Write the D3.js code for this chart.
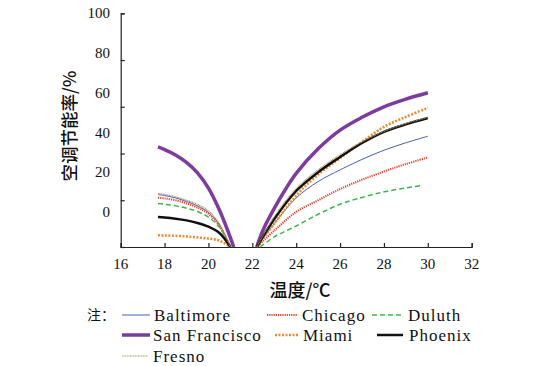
<!DOCTYPE html>
<html>
<head>
<meta charset="utf-8">
<script src="https://cdn.jsdelivr.net/npm/d3@7"></script>
<style>
  body { margin: 0; background: #fff; }
</style>
</head>
<body>
<div id="chart"></div>
<script>
// temperatures (°C) where values were read
const heatT = [17.7, 18, 18.5, 19, 19.5, 20, 20.5, 21];
const heatT_SF = [17.7, 18, 18.5, 19, 19.5, 20, 20.5, 21, 21.15];
const coolT = [22.2, 23, 24, 25, 26, 27, 28, 29, 30];
const coolT_SF = [22.2, 22.5, 23, 23.5, 24, 25, 26, 27, 28, 29, 30];
const coolT_Duluth = [22.35, 23, 24, 25, 26, 27, 28, 29, 29.75];

// energy saving rate (%)
const baltimoreHeat = [22.4, 22, 21, 19.5, 17.6, 14.8, 9.5, 0];
const baltimoreCool = [0, 10, 21, 28, 33, 37.5, 41.4, 44.6, 47.4];
const chicagoHeat = [21.1, 20.8, 20, 18.7, 16.9, 14.2, 9.1, 0];
const chicagoCool = [0, 7, 15, 20, 24.8, 28.8, 32.3, 35.5, 38.3];
const duluthHeat = [18.6, 18.3, 17.6, 16.6, 15.2, 12.8, 8.4, 0];
const duluthCool = [0, 4.3, 9, 14, 18.3, 21.2, 23.6, 25.3, 26.4];
const sfHeat = [42.8, 41.7, 39.4, 36.2, 31.7, 25.2, 15.8, 4, 0];
const sfCool = [0, 7.5, 16.5, 24.5, 31.5, 42, 50, 55.5, 60, 63.3, 66];
const miamiHeat = [5.0, 4.95, 4.8, 4.5, 4.1, 3.6, 2.7, 0];
const miamiCool = [0, 10, 22, 31, 38, 45, 51.4, 55.7, 59.5];
const phoenixHeat = [12.8, 12.6, 12.1, 11.4, 10.3, 8.7, 6, 0];
const phoenixCool = [0, 12, 24, 32, 38.5, 44.5, 49.3, 52.5, 55.2];
const fresnoHeat = [22.9, 22.5, 21.5, 20, 18.3, 15.5, 10, 0];
const fresnoCool = [0, 13, 25, 33, 39.5, 45, 49.5, 52.8, 55.5];

const xTicks = [16, 18, 20, 22, 24, 26, 28, 30, 32];
const yTicks = [0, 20, 40, 60, 80, 100];

const series = [
  { name: 'Baltimore', heat: [heatT, baltimoreHeat], cool: [coolT, baltimoreCool],
    color: '#4a5fb0', width: 1, dash: null },
  { name: 'Chicago', heat: [heatT, chicagoHeat], cool: [coolT, chicagoCool],
    color: '#e8402a', width: 2, dash: '1.2,1' },
  { name: 'Duluth', heat: [heatT, duluthHeat], cool: [coolT_Duluth, duluthCool],
    color: '#3db54a', width: 1.5, dash: '5,3' },
  { name: 'San Francisco', heat: [heatT_SF, sfHeat], cool: [coolT_SF, sfCool],
    color: '#7d3b9e', width: 3.5, dash: null },
  { name: 'Miami', heat: [heatT, miamiHeat], cool: [coolT, miamiCool],
    color: '#f08a2c', width: 2.5, dash: '2,1.5' },
  { name: 'Phoenix', heat: [heatT, phoenixHeat], cool: [coolT, phoenixCool],
    color: '#111', width: 2.5, dash: null },
  { name: 'Fresno', heat: [heatT, fresnoHeat], cool: [coolT, fresnoCool],
    color: '#a8906c', width: 1.2, dash: '1,0.6' }
];

const serif = '"Liberation Serif", "DejaVu Serif", serif';
const cjk = '"Noto Sans CJK SC", sans-serif';
const width = 551, height = 366;

const svg = d3.select('#chart')
  .append('svg')
  .attr('width', width)
  .attr('height', height);

const x = d3.scaleLinear().domain([16, 32]).range([120.7, 471.7]);
const y = d3.scaleLinear().domain([0, 100]).range([247, 13.3]);
// tick labels in the original sit on their own, tighter spacing
const yLabel = d3.scaleLinear().domain([0, 100]).range([212, 13.3]);

// axes
svg.append('g')
  .attr('transform', `translate(0,${y(0)})`)
  .call(d3.axisBottom(x).tickValues(xTicks).tickSize(-4).tickFormat(''))
  .call(g => g.select('.domain').attr('stroke', '#222').attr('stroke-width', 1.2))
  .call(g => g.selectAll('.tick line').attr('stroke', '#222').attr('stroke-width', 1.2));

svg.append('g')
  .attr('transform', `translate(${x(16)},0)`)
  .call(d3.axisLeft(y).tickValues(yTicks).tickSize(-4).tickFormat(''))
  .call(g => g.select('.domain').attr('stroke', '#222').attr('stroke-width', 1.2))
  .call(g => g.selectAll('.tick line').attr('stroke', '#222').attr('stroke-width', 1.2));

svg.append('g').selectAll('text')
  .data(xTicks)
  .join('text')
  .attr('x', d => x(d))
  .attr('y', 269)
  .attr('text-anchor', 'middle')
  .style('font-family', serif)
  .style('font-size', '15px')
  .attr('fill', '#111')
  .text(d => d);

svg.append('g').selectAll('text')
  .data(yTicks)
  .join('text')
  .attr('x', 110)
  .attr('y', d => yLabel(d) + 5)
  .attr('text-anchor', 'end')
  .style('font-family', serif)
  .style('font-size', '15px')
  .attr('fill', '#111')
  .text(d => d);

// titles
svg.append('text')
  .attr('transform', 'translate(76,126) rotate(-90)')
  .attr('text-anchor', 'middle')
  .style('font-family', cjk)
  .style('font-size', '17.5px')
  .style('font-weight', 500)
  .attr('fill', '#111')
  .text('空调节能率/%');

svg.append('text')
  .attr('x', 300)
  .attr('y', 297)
  .attr('text-anchor', 'middle')
  .style('font-family', cjk)
  .style('font-size', '18px')
  .style('font-weight', 500)
  .attr('fill', '#111')
  .text('温度/℃');

// curves
const line = d3.line()
  .x(d => x(d[0]))
  .y(d => y(d[1]))
  .curve(d3.curveCatmullRom.alpha(0.5));

const plot = svg.append('g');
series.forEach(s => {
  [s.heat, s.cool].forEach(([ts, vs]) => {
    plot.append('path')
      .datum(ts.map((t, i) => [t, vs[i]]))
      .attr('d', line)
      .attr('fill', 'none')
      .attr('stroke', s.color)
      .attr('stroke-width', s.width)
      .attr('stroke-dasharray', s.dash);
  });
});

// legend
svg.append('text')
  .attr('x', 87)
  .attr('y', 320)
  .style('font-family', cjk)
  .style('font-size', '14px')
  .attr('fill', '#111')
  .text('注：');

const legendPos = [
  { x: 122, y: 315, tx: 154 },
  { x: 267, y: 315, tx: 302 },
  { x: 372, y: 315, tx: 408 },
  { x: 122, y: 335, tx: 153 },
  { x: 275, y: 335, tx: 303 },
  { x: 377, y: 335, tx: 409 },
  { x: 122, y: 356, tx: 153 }
];
const legendLen = [28, 30, 31, 28, 23, 26, 26];

series.forEach((s, i) => {
  const p = legendPos[i];
  svg.append('line')
    .attr('x1', p.x).attr('x2', p.x + legendLen[i])
    .attr('y1', p.y).attr('y2', p.y)
    .attr('stroke', s.color)
    .attr('stroke-width', s.width)
    .attr('stroke-dasharray', s.dash);
  svg.append('text')
    .attr('x', p.tx)
    .attr('y', p.y + 6)
    .style('font-family', serif)
    .style('font-size', '17px')
    .style('letter-spacing', '1px')
    .attr('fill', '#111')
    .text(s.name);
});
</script>
</body>
</html>
